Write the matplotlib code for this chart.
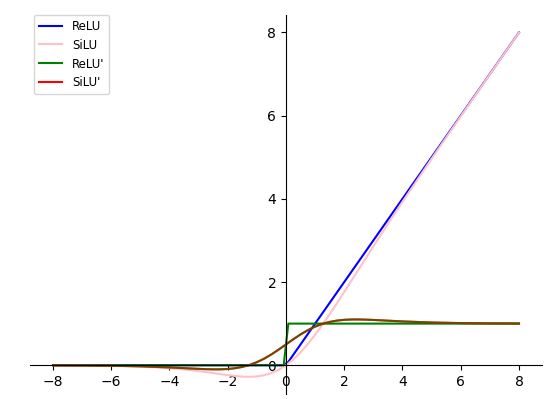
import matplotlib
matplotlib.use("Agg")
import matplotlib.pyplot as plt

# values
x = [-8, -7, -6, -5, -4, -3.5, -3, -2.75, -2.5, -2.25, -2, -1.75, -1.5, -1.25,
     -1, -0.75, -0.5, -0.25, 0, 0.25, 0.5, 0.75, 1, 1.25, 1.5, 1.75, 2, 2.25,
     2.5, 2.75, 3, 3.5, 4, 5, 6, 7, 8]
silu = [-0.0027, -0.0064, -0.0148, -0.0335, -0.0719, -0.1026, -0.1423, -0.1652,
        -0.1896, -0.2145, -0.2384, -0.2591, -0.2736, -0.2784, -0.2689, -0.2406,
        -0.1888, -0.1095, 0.0, 0.1405, 0.3112, 0.5094, 0.7311, 0.9716, 1.2264,
        1.4909, 1.7616, 2.0355, 2.3104, 2.5848, 2.8577, 3.3974, 3.9281, 4.9665,
        5.9852, 6.9936, 7.9973]
silu_d = [-0.0023, -0.0055, -0.0123, -0.0266, -0.0527, -0.0703, -0.0881, -0.0952,
          -0.0994, -0.0987, -0.0908, -0.0727, -0.0413, 0.0063, 0.0723, 0.1574,
          0.2600, 0.3763, 0.5, 0.6237, 0.7400, 0.8426, 0.9277, 0.9937, 1.0413,
          1.0727, 1.0908, 1.0987, 1.0994, 1.0952, 1.0881, 1.0703, 1.0527, 1.0266,
          1.0123, 1.0055, 1.0023]

relu_x = [-8, -0.08, 0.08, 8]
relu = [0, 0, 0.08, 8]
relu_d = [0, 0, 1, 1]

fig, ax = plt.subplots(figsize=(5.5, 3.99), dpi=100)
fig.subplots_adjust(left=0.054, right=0.986, top=0.962, bottom=0.0125)

ax.plot(relu_x, relu, color="blue", label="ReLU")
ax.plot(x, silu, color="pink", label="SiLU")
ax.plot(relu_x, relu_d, color="green", label="ReLU'")
ax.plot(x, silu_d, color="red", label="SiLU'")
ax.plot(x, silu_d, color="green", alpha=0.55)

ax.spines["left"].set_position(("data", 0))
ax.spines["bottom"].set_position(("data", 0))
ax.spines["right"].set_visible(False)
ax.spines["top"].set_visible(False)
ax.set_xticks([-8, -6, -4, -2, 0, 2, 4, 6, 8])
ax.set_yticks([0, 2, 4, 6, 8])

ax.legend(loc="upper left", fontsize=8.5, borderaxespad=0,
          bbox_to_anchor=(34 / 550, 1 - 15 / 399), bbox_transform=fig.transFigure)
fig.savefig("out.png")
